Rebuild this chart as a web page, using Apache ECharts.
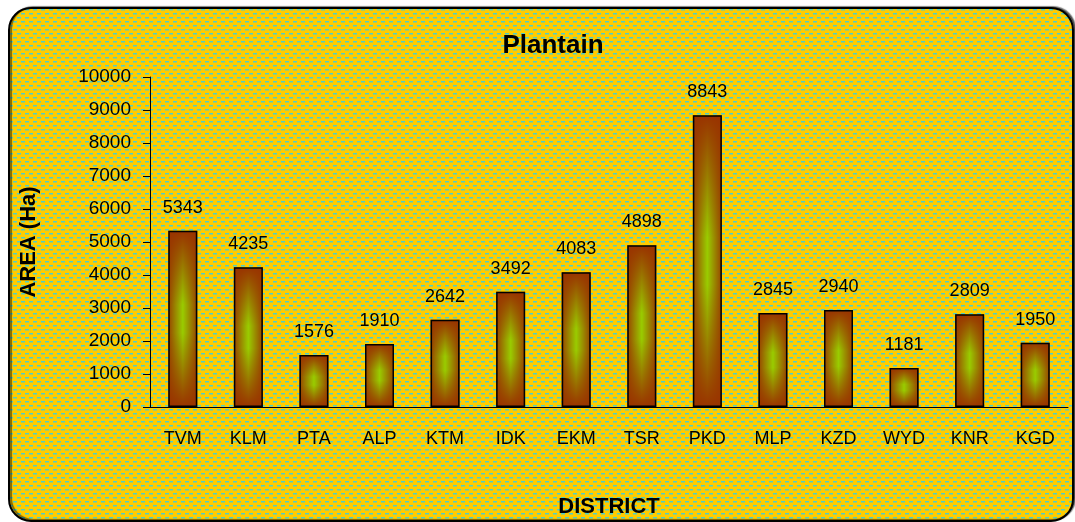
<!DOCTYPE html>
<html>
<head>
<meta charset="utf-8">
<script src="https://cdn.jsdelivr.net/npm/echarts@6/dist/echarts.min.js"></script>
<style>
  html, body { margin: 0; padding: 0; background: #fff; }
  #main { width: 1075px; height: 522px; }
</style>
</head>
<body>
<div id="main"></div>
<script>
// district codes and plantain area (Ha)
var districts = ['TVM','KLM','PTA','ALP','KTM','IDK','EKM','TSR','PKD','MLP','KZD','WYD','KNR','KGD'];
var areas = [5343, 4235, 1576, 1910, 2642, 3492, 4083, 4898, 8843, 2845, 2940, 1181, 2809, 1950];
var yTicks = [0, 10000, 1000]; // min, max, step

// little yellow/cyan tile for the background
function makeTile() {
	var c = document.createElement('canvas');
	c.width = 8; c.height = 8;
	var g = c.getContext('2d');
	g.fillStyle = '#ffcc00';
	g.fillRect(0, 0, 8, 8);
	g.fillStyle = '#4fcfc8';
	g.fillRect(1, 1, 4, 1.5);
	g.fillRect(5, 5, 4, 1.5);
	g.fillRect(-3, 5, 4, 1.5);
	return c;
}

var myChart = echarts.init(document.getElementById('main'));
var font = '"Liberation Sans", Arial, sans-serif';

var option = {
	backgroundColor: '#fff',
	animation: false,
	graphic: [
		{
			type: 'rect',
			z: -10,
			shape: { x: 9, y: 8, width: 1064, height: 513, r: 22 },
			style: {
				fill: { image: makeTile(), repeat: 'repeat' },
				stroke: '#000',
				lineWidth: 2,
				shadowColor: 'rgba(0,0,0,0.5)',
				shadowOffsetX: 2,
				shadowOffsetY: -1,
				shadowBlur: 1
			}
		}
	],
	title: {
		text: 'Plantain',
		left: 548,
		textAlign: 'center',
		top: 28,
		textStyle: { fontFamily: font, fontSize: 26, fontWeight: 'bold', color: '#000' }
	},
	grid: { left: 150, right: 7, top: 77, bottom: 115, outerBoundsMode: 'none', containLabel: false },
	xAxis: {
		type: 'category',
		data: districts,
		name: 'DISTRICT',
		nameLocation: 'middle',
		nameGap: 89,
		nameTextStyle: { fontFamily: font, fontSize: 22, fontWeight: 'bold', color: '#000' },
		axisLine: { lineStyle: { color: '#000', width: 1 } },
		axisTick: { length: 7, lineStyle: { color: '#000' } },
		axisLabel: { fontFamily: font, fontSize: 18, color: '#000', margin: 23 }
	},
	yAxis: {
		type: 'value',
		min: yTicks[0],
		max: yTicks[1],
		interval: yTicks[2],
		name: 'AREA (Ha)',
		nameLocation: 'middle',
		nameGap: 110,
		nameTextStyle: { fontFamily: font, fontSize: 22, fontWeight: 'bold', color: '#000' },
		axisLine: { show: true, lineStyle: { color: '#000', width: 1 } },
		axisTick: { show: true, length: 7, lineStyle: { color: '#000' } },
		axisLabel: {
			fontFamily: font, fontSize: 19, color: '#000', margin: 19,
			formatter: function (v) { return String(v); }
		},
		splitLine: { show: false }
	},
	series: [
		{
			// horizontal brown-green-brown shading
			type: 'bar',
			data: areas,
			barWidth: 29,
			itemStyle: {
				color: {
					type: 'linear', x: 0, y: 0, x2: 1, y2: 0,
					colorStops: [
						{ offset: 0, color: '#994400' },
						{ offset: 0.5, color: '#99cc00' },
						{ offset: 1, color: '#994400' }
					]
				}
			}
		},
		{
			// vertical shading on top, with outline and labels
			type: 'bar',
			data: areas,
			barWidth: 29,
			barGap: '-100%',
			itemStyle: {
				borderColor: '#000',
				borderWidth: 1.5,
				color: {
					type: 'linear', x: 0, y: 0, x2: 0, y2: 1,
					colorStops: [
						{ offset: 0, color: 'rgba(153,51,0,1)' },
						{ offset: 0.42, color: 'rgba(153,51,0,0)' },
						{ offset: 0.58, color: 'rgba(153,51,0,0)' },
						{ offset: 1, color: 'rgba(153,51,0,1)' }
					]
				}
			},
			label: {
				show: true,
				position: 'top',
				distance: 14,
				fontFamily: font,
				fontSize: 18,
				color: '#000'
			}
		}
	]
};
myChart.setOption(option);
</script>
</body>
</html>
